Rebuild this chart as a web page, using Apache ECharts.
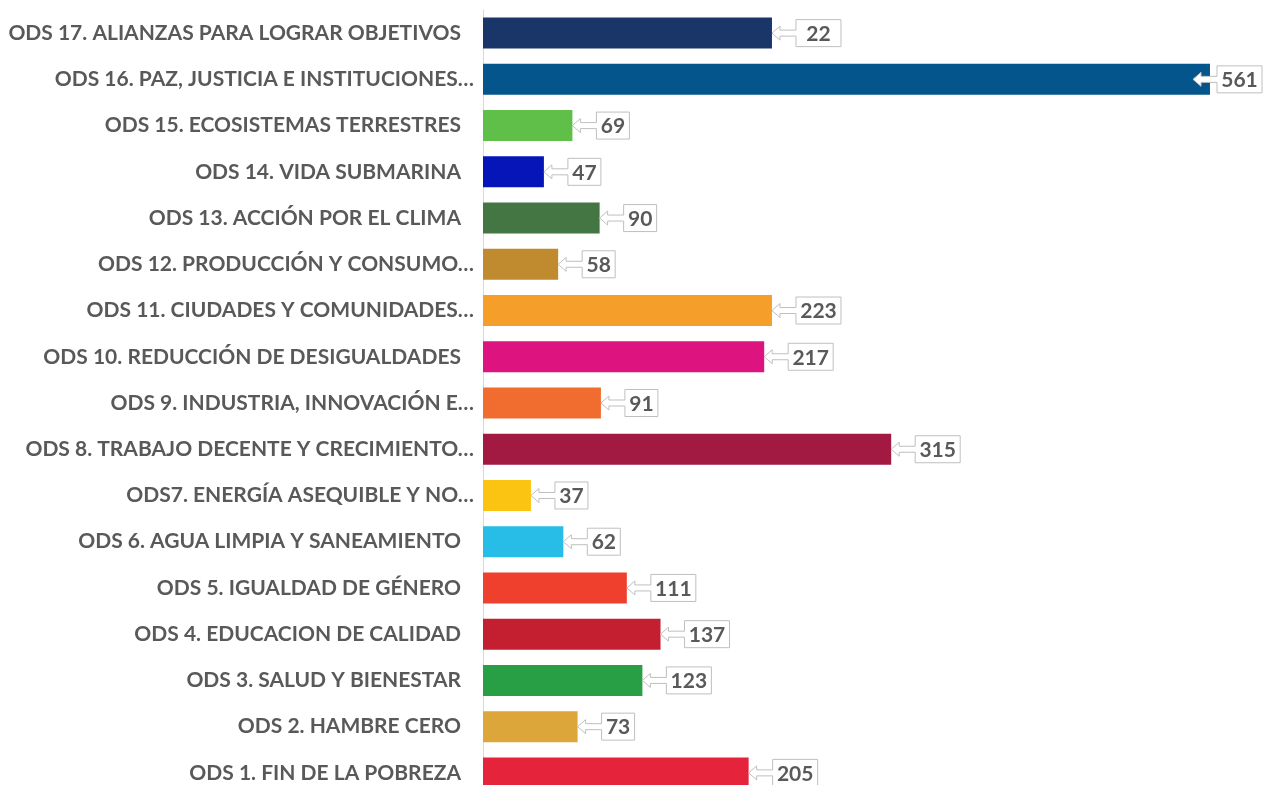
<!DOCTYPE html>
<html>
<head>
<meta charset="utf-8">
<script src="https://cdn.jsdelivr.net/npm/echarts@6/dist/echarts.min.js"></script>
<style>
  html, body { margin: 0; padding: 0; background: #fff; }
  #chart { width: 1263px; height: 785px; }
</style>
</head>
<body>
<div id="chart"></div>
<script>
// ODS 1 at the bottom, ODS 17 at the top
var categories = [
  'ODS 1. FIN DE LA POBREZA',
  'ODS 2. HAMBRE CERO',
  'ODS 3. SALUD Y BIENESTAR',
  'ODS 4. EDUCACION DE CALIDAD',
  'ODS 5. IGUALDAD DE GÉNERO',
  'ODS 6. AGUA LIMPIA Y SANEAMIENTO',
  'ODS7. ENERGÍA ASEQUIBLE Y NO…',
  'ODS 8. TRABAJO DECENTE Y CRECIMIENTO…',
  'ODS 9. INDUSTRIA, INNOVACIÓN E…',
  'ODS 10. REDUCCIÓN DE DESIGUALDADES',
  'ODS 11. CIUDADES Y COMUNIDADES…',
  'ODS 12. PRODUCCIÓN Y CONSUMO…',
  'ODS 13. ACCIÓN POR EL CLIMA',
  'ODS 14. VIDA SUBMARINA',
  'ODS 15. ECOSISTEMAS TERRESTRES',
  'ODS 16. PAZ, JUSTICIA E INSTITUCIONES…',
  'ODS 17. ALIANZAS PARA LOGRAR OBJETIVOS'
];

// bar lengths as drawn
var values = [205, 73, 123, 137, 111, 62, 37, 315, 91, 217, 223, 58, 90, 47, 69, 561, 223];

// text shown in the callouts (ODS 17 reads "22" in the picture)
var labels = ['205', '73', '123', '137', '111', '62', '37', '315', '91', '217', '223', '58', '90', '47', '69', '561', '22'];

var colors = [
  '#e5243b', '#dda63a', '#289e45', '#c41f30', '#ef402d', '#27bde6',
  '#fcc412', '#a21942', '#f06d2f', '#dd1380', '#f59e2a', '#bf8b2e',
  '#447644', '#0515b8', '#5fbf48', '#03558b', '#1a3668'
];

var chartWidth = 1263;

var calloutData = values.map(function (v, i) { return [v, i]; });

var renderCallout = function (params, api) {
  var i = params.dataIndex;
  var end = api.coord([api.value(0), api.value(1)]);
  var x0 = end[0], cy = end[1];
  var txt = labels[i];
  // box is sized for the full number, like the original
  var boxW = String(values[i]).length > 2 ? 45 : 33;
  var h = 13.5;
  var boxL = Math.min(x0 + 24, chartWidth - 1 - boxW);
  var tip = boxL - 24;
  var boxR = boxL + boxW;
  var pts = [
    [tip, cy], [tip + 8, cy - 7], [tip + 8, cy - 3], [boxL, cy - 3],
    [boxL, cy - h], [boxR, cy - h], [boxR, cy + h], [boxL, cy + h],
    [boxL, cy + 3], [tip + 8, cy + 3], [tip + 8, cy + 7]
  ];
  return {
    type: 'group',
    children: [
      {
        type: 'polygon',
        shape: { points: pts },
        style: { fill: '#fff', stroke: '#bfbfbf', lineWidth: 1 }
      },
      {
        type: 'text',
        x: boxL + boxW / 2,
        y: cy + 1,
        style: {
          text: txt,
          fill: '#595959',
          font: 'bold 21px Lato',
          align: 'center',
          verticalAlign: 'middle'
        }
      }
    ]
  };
};

var labelFont = { color: '#595959', fontFamily: 'Lato', fontWeight: 'bold', fontSize: 21 };

var myChart = echarts.init(document.getElementById('chart'));

var option = {
  animation: false,
  grid: {
    left: 483, top: 10, width: 777.5, height: 786,
    containLabel: false, outerBoundsMode: 'none'
  },
  xAxis: {
    type: 'value',
    min: 0,
    max: 600,
    show: false
  },
  yAxis: {
    type: 'category',
    data: categories,
    axisLine: { show: true, lineStyle: { color: '#d9d9d9', width: 1 } },
    axisTick: { show: false },
    axisLabel: {
      color: '#595959',
      fontFamily: 'Lato',
      fontWeight: 'bold',
      fontSize: 21,
      margin: 9,
      // truncated names run closer to the axis
      formatter: function (v) {
        return v.slice(-1) === '…' ? '{t|' + v + '}' : '{n|' + v + '}';
      },
      rich: {
        t: labelFont,
        n: Object.assign({ padding: [0, 13, 0, 0] }, labelFont)
      }
    }
  },
  series: [
    {
      type: 'bar',
      data: values.map(function (v, i) {
        return { value: v, itemStyle: { color: colors[i] } };
      }),
      barWidth: 31
    },
    {
      type: 'custom',
      data: calloutData,
      renderItem: renderCallout,
      encode: { x: 0, y: 1 },
      z: 5
    }
  ]
};

myChart.setOption(option);
</script>
</body>
</html>
